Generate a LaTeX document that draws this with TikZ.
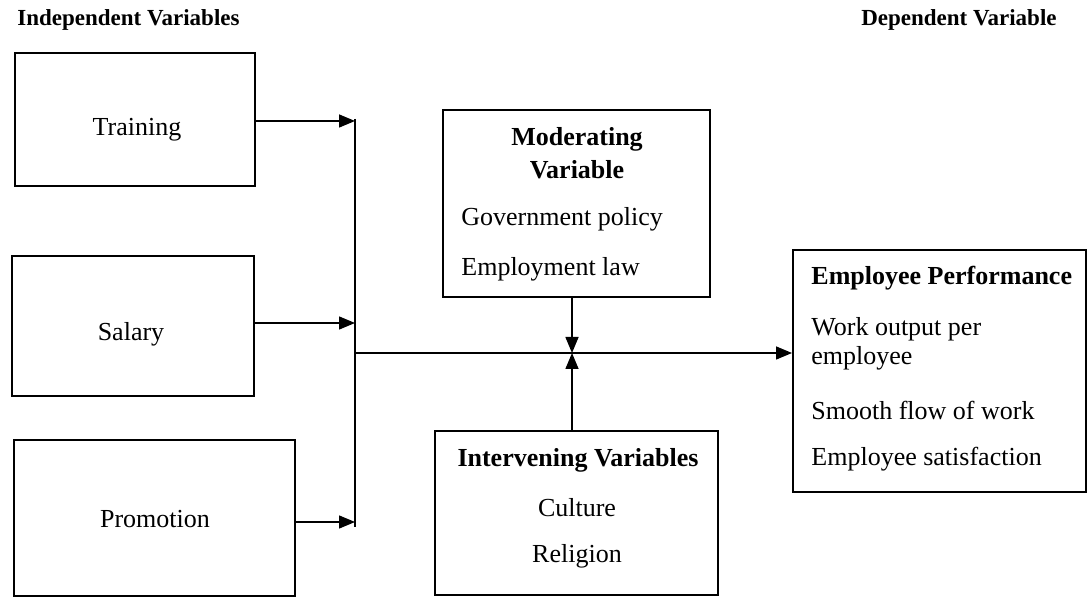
\documentclass[tikz,border=0pt]{standalone}
\usepackage{fontspec}
\setmainfont{Liberation Serif}
\usepackage{tikz}
\usetikzlibrary{positioning,calc,arrows.meta}

\begin{document}
\begin{tikzpicture}[x=0.5pt, y=-0.5pt,
    var/.style={draw, rectangle, line width=1pt, inner sep=0pt},
    txt/.style={inner sep=0pt, font=\fontsize{13}{15}\selectfont},
    hd/.style={inner sep=0pt, font=\fontsize{13}{15}\selectfont\bfseries},
    top/.style={inner sep=0pt, font=\fontsize{11.5}{13}\selectfont\bfseries},
    link/.style={line width=0.75pt, -{Triangle[length=8pt,width=6.5pt]}}
]
    \useasboundingbox (0,0) rectangle (1087,598);

    % headings
    \node [top, anchor=west] (indep) at (17,20) {Independent Variables};
    \node [top, anchor=east] (dep) at (1057,20) {Dependent Variable};

    % independent variables
    \node [var, minimum width=120pt, minimum height=66.5pt] (train) at (135,119.5) {};
    \node [var, minimum width=121pt, minimum height=70pt] (sal) at (133,326) {};
    \node [var, minimum width=140.5pt, minimum height=78pt] (prom) at (154.5,518) {};
    \node [txt] (trainlbl) at (137,130) {Training};
    \node [txt] (sallbl) at (131,334) {Salary};
    \node [txt] (promlbl) at (155,519) {Promotion};

    % moderating variable
    \node [var, minimum width=133.5pt, minimum height=93.5pt] (mod) at (576.5,203.5) {};
    \node [hd] (modhd1) at (577,139) {Moderating};
    \node [hd] (modhd2) at (577,170) {Variable};
    \node [txt, anchor=west] (gov) at (461,219) {Government policy};
    \node [txt, anchor=west] (law) at (461,269) {Employment law};

    % intervening variables
    \node [var, minimum width=141.5pt, minimum height=82pt] (int) at (576.5,513) {};
    \node [hd] (inthd) at (578,460) {Intervening Variables};
    \node [txt] (cult) at (577,508) {Culture};
    \node [txt] (rel) at (577,556) {Religion};

    % dependent variable
    \node [var, minimum width=146.5pt, minimum height=121pt] (perf) at (939.5,371) {};
    \node [hd, anchor=west] (perfhd) at (811,278) {Employee Performance};
    \node [txt, anchor=west] (out1) at (811,329) {Work output per};
    \node [txt, anchor=west] (out2) at (811,358) {employee};
    \node [txt, anchor=west] (flow) at (811,410) {Smooth flow of work};
    \node [txt, anchor=west] (sat) at (811,459) {Employee satisfaction};

    % connectors
    \coordinate (bustop) at (355,121);
    \coordinate (busmid) at (355,323);
    \coordinate (busbot) at (355,522);
    \coordinate (join) at (355,353);
    \coordinate (meet) at (572,353);

    \draw [line width=0.75pt] (355,119) -- (355,527);
    \draw [link] (train.east |- bustop) -- (bustop);
    \draw [link] (sal.east |- busmid) -- (busmid);
    \draw [link] (prom.east |- busbot) -- (busbot);
    \draw [link] (join) -- (perf.west |- join);
    \draw [link] (mod.south -| meet) -- (meet);
    \draw [link] (int.north -| meet) -- (meet);
\end{tikzpicture}
\end{document}
